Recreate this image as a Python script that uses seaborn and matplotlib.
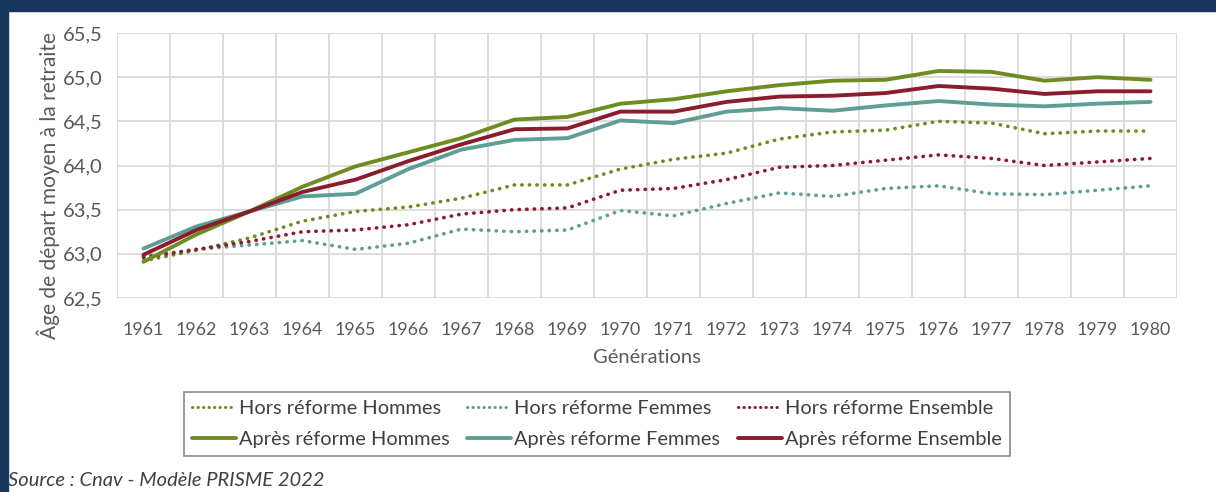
import numpy as np
import pandas as pd
import matplotlib.pyplot as plt
import seaborn as sns
from matplotlib.patches import Rectangle
from matplotlib.lines import Line2D

years = list(range(1961, 1981))

hors_hommes = [62.92, 63.04, 63.18, 63.37, 63.48, 63.53, 63.63, 63.78, 63.78, 63.96,
               64.07, 64.14, 64.30, 64.38, 64.40, 64.50, 64.48, 64.36, 64.39, 64.39]
hors_femmes = [62.97, 63.05, 63.10, 63.15, 63.05, 63.12, 63.28, 63.25, 63.27, 63.49,
               63.43, 63.57, 63.69, 63.65, 63.74, 63.77, 63.68, 63.67, 63.72, 63.77]
hors_ensemble = [62.96, 63.05, 63.14, 63.25, 63.27, 63.33, 63.45, 63.50, 63.52, 63.72,
                 63.74, 63.84, 63.98, 64.00, 64.06, 64.12, 64.08, 64.00, 64.04, 64.08]
apres_hommes = [62.91, 63.22, 63.48, 63.76, 63.99, 64.15, 64.31, 64.52, 64.55, 64.70,
                64.75, 64.84, 64.91, 64.96, 64.97, 65.07, 65.06, 64.96, 65.00, 64.97]
apres_femmes = [63.06, 63.31, 63.48, 63.65, 63.68, 63.96, 64.18, 64.29, 64.31, 64.51,
                64.48, 64.61, 64.65, 64.62, 64.68, 64.73, 64.69, 64.67, 64.70, 64.72]
apres_ensemble = [62.99, 63.27, 63.48, 63.70, 63.84, 64.05, 64.24, 64.41, 64.42, 64.61,
                  64.61, 64.72, 64.78, 64.79, 64.82, 64.90, 64.87, 64.81, 64.84, 64.84]

series = [
    ("Hors réforme Hommes", hors_hommes),
    ("Hors réforme Femmes", hors_femmes),
    ("Hors réforme Ensemble", hors_ensemble),
    ("Après réforme Hommes", apres_hommes),
    ("Après réforme Femmes", apres_femmes),
    ("Après réforme Ensemble", apres_ensemble),
]
OLIVE, TEAL, RED = "#6f8c22", "#5f9e95", "#8a1c2e"
colors = [OLIVE, TEAL, RED, OLIVE, TEAL, RED]

sns.set_style("white")
plt.rcParams['font.family'] = ['Lato', 'DejaVu Sans']

fig = plt.figure(figsize=(12.16, 4.92), dpi=100)
ax = fig.add_axes([117 / 1216, 194 / 492, 1060 / 1216, 265 / 492])

# cadre bleu marine
fig.patches.append(Rectangle((0, 481 / 492), 1, 11 / 492, transform=fig.transFigure,
                             color="#17365d", zorder=-1))
fig.patches.append(Rectangle((0, 0), 8 / 1216, 1, transform=fig.transFigure,
                             color="#17365d", zorder=-1))

handles = []
for (name, vals), c in zip(series, colors):
    dotted = name.startswith("Hors")
    df = pd.DataFrame({"annee": years, "age": vals})
    if dotted:
        sns.lineplot(data=df, x="annee", y="age", ax=ax, color=c, lw=2.6,
                     linestyle=(0, (0.1, 2.0)), dash_capstyle="round")
        handles.append(Line2D([], [], color=c, lw=2.2, linestyle=(0, (0.1, 1.7)),
                              dash_capstyle="round", label=name))
    else:
        sns.lineplot(data=df, x="annee", y="age", ax=ax, color=c, lw=2.8)
        handles.append(Line2D([], [], color=c, lw=2.8, label=name))

ax.set_xlim(1960.5, 1980.5)
ax.set_ylim(62.5, 65.5)
ax.set_xticks(years)
ax.set_xticks(np.arange(1960.5, 1981, 1), minor=True)
ax.set_yticks(np.arange(62.5, 65.51, 0.5))
ax.set_yticklabels([f"{v:.1f}".replace(".", ",") for v in np.arange(62.5, 65.51, 0.5)])
ax.grid(False)
ax.grid(True, which="minor", axis="x", color="#d9d9d9", lw=1.3)
ax.grid(True, which="major", axis="y", color="#d9d9d9", lw=1.3)
for s in ax.spines.values():
    s.set_visible(False)
ax.tick_params(axis="both", which="both", length=0, colors="#595959")
ax.tick_params(axis="x", pad=17, labelsize=12.8)
ax.tick_params(axis="y", pad=10, labelsize=14.5)
ax.set_xlabel("Générations", fontsize=14.5, color="#595959", labelpad=8)
ax.set_ylabel("")
fig.text(48 / 1216, 1 - 186 / 492, "Âge de départ moyen à la retraite", rotation=90,
         ha="center", va="center", fontsize=15, color="#595959")

# ordre ligne par ligne (matplotlib remplit par colonnes)
order = [0, 3, 1, 4, 2, 5]
leg = fig.legend(handles=[handles[i] for i in order], loc="center",
                 bbox_to_anchor=(597 / 1216, 1 - 424 / 492),
                 ncol=3, frameon=True, handlelength=2.2, handletextpad=0.15,
                 columnspacing=0.9, labelspacing=0.68, borderpad=0.4, borderaxespad=0,
                 prop={"family": ["Lato", "DejaVu Sans"], "size": 14.4})
leg.get_frame().set_edgecolor("#6b6b6b")
leg.get_frame().set_linewidth(1.2)
leg.get_frame().set_boxstyle("square", pad=0)
for t in leg.get_texts():
    t.set_color("#404040")

fig.text(8 / 1216, 1 - 481 / 492, "Source : Cnav - Modèle PRISME 2022", ha="left",
         va="center", fontsize=14.5, style="italic", color="#404040")

fig.savefig("out.png", dpi=100)
